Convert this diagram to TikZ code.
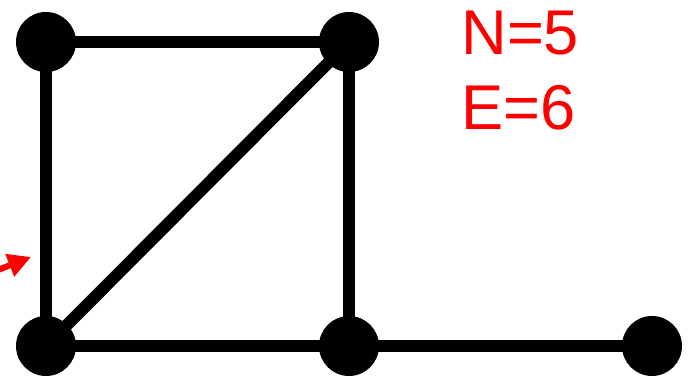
\documentclass[tikz,border=0pt]{standalone}
\usepackage{fontspec}
\setmainfont{Liberation Sans}
\usetikzlibrary{arrows.meta}
\tikzset{
	vertex/.style={circle, fill=black, minimum size=1.2cm, inner sep=0pt},
	edge/.style={line width=6.8pt},
	count/.style={anchor=base west, text=red, inner sep=0pt, font=\fontsize{36}{43}\selectfont},
}
\begin{document}
\begin{tikzpicture}[x=0.02cm, y=-0.02cm]
	\useasboundingbox (0, 0) rectangle (691, 381);
	% Edges:
	\coordinate (tl) at (46, 42);
	\coordinate (tr) at (349, 42);
	\coordinate (bl) at (46, 346);
	\coordinate (bm) at (349, 346);
	\coordinate (br) at (652, 346);
	\draw[edge] (tl) -- (tr);
	\draw[edge] (tl) -- (bl);
	\draw[edge] (tr) -- (bm);
	\draw[edge] (bl) -- (tr);
	\draw[edge] (bl) -- (bm);
	\draw[edge] (bm) -- (br);
	% Vertices:
	\node[vertex] (v1) at (tl){};
	\node[vertex] (v2) at (tr){};
	\node[vertex] (v3) at (bl){};
	\node[vertex] (v4) at (bm){};
	\node[vertex] (v5) at (br){};
	% Counts:
	\node[count] (nodes) at (461, 55){N=5};
	\node[count] (edges) at (461, 130){E=6};
	% Pointer:
	\begin{scope}
		\clip (0, 0) rectangle (691, 381);
		\coordinate (tail) at (-20, 277);
		\coordinate (tip) at (31, 257);
		\draw[red, line width=3.5pt, -{Triangle[length=13pt, width=13pt]}] (tail) -- (tip);
	\end{scope}
\end{tikzpicture}
\end{document}
